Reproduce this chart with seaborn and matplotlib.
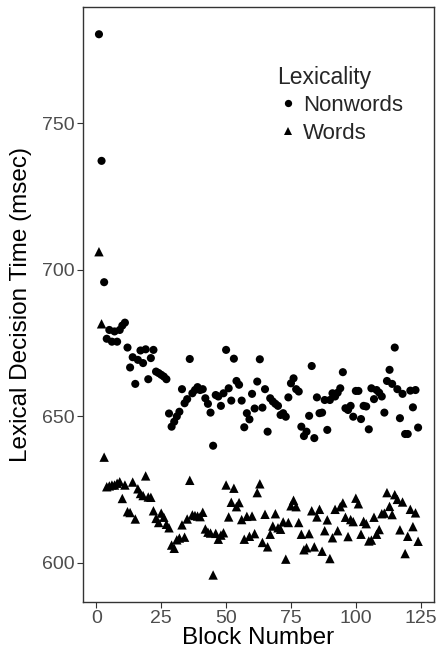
import numpy as np
import pandas as pd
import matplotlib
matplotlib.use('Agg')
import matplotlib.pyplot as plt
import seaborn as sns

# 每个 block 的平均反应时间
blocks = list(range(1, 125))

nonwords = [780.4, 737.2, 695.8, 676.5, 679.5, 675.5, 679.0, 675.5, 679.5, 681.0,
            682.0, 673.5, 666.7, 670.2, 661.1, 669.3, 672.5, 668.2, 672.9, 662.7,
            669.9, 672.7, 665.3, 664.8, 664.2, 663.6, 662.7, 651.0, 646.5, 648.2,
            650.0, 651.6, 659.3, 654.5, 655.9, 669.6, 657.9, 659.0, 660.0, 659.0,
            659.3, 656.2, 654.3, 651.3, 640.0, 657.3, 656.8, 653.6, 657.9, 672.7,
            659.6, 655.4, 669.7, 662.1, 660.8, 655.4, 646.3, 651.1, 649.0, 657.7,
            652.7, 661.9, 669.5, 653.0, 659.3, 644.8, 656.2, 655.1, 654.3, 653.6,
            650.5, 651.1, 649.9, 656.5, 661.3, 663.0, 659.3, 658.5, 646.5, 643.3,
            644.8, 650.2, 667.2, 642.6, 656.5, 651.1, 651.3, 655.6, 645.4, 655.6,
            657.9, 656.8, 658.1, 659.6, 665.1, 652.8, 652.2, 653.6, 649.9, 658.7,
            658.7, 649.1, 653.6, 653.4, 645.6, 659.6, 655.9, 659.0, 658.1, 656.8,
            651.3, 662.1, 665.9, 661.1, 673.5, 659.3, 649.4, 657.7, 644.0, 644.0,
            658.8, 653.1, 659.0, 646.2]

words = [706.2, 681.6, 636.1, 626.0, 626.3, 626.6, 626.6, 627.2, 627.7, 622.0,
         626.6, 617.5, 617.2, 627.6, 615.0, 625.3, 623.7, 623.0, 629.7, 622.5,
         622.4, 617.8, 615.2, 613.8, 617.0, 615.6, 613.2, 612.0, 606.1, 605.0,
         607.9, 608.5, 613.0, 608.8, 615.0, 628.2, 616.4, 616.2, 616.0, 615.8,
         617.3, 611.6, 610.5, 610.2, 595.9, 610.1, 608.1, 609.5, 610.3, 626.6,
         615.7, 620.7, 625.5, 619.2, 620.6, 614.8, 608.1, 615.9, 609.1, 616.0,
         610.0, 624.0, 627.0, 607.0, 616.6, 605.5, 609.8, 612.6, 616.8, 612.0,
         611.5, 614.0, 601.3, 613.8, 619.5, 621.4, 619.2, 613.8, 609.8, 604.5,
         605.2, 610.0, 617.8, 605.5, 615.7, 618.3, 604.0, 611.0, 614.7, 601.5,
         608.6, 618.3, 611.0, 619.2, 620.5, 615.6, 609.0, 614.8, 614.1, 622.1,
         620.2, 609.8, 614.2, 613.4, 607.5, 607.8, 615.6, 609.8, 611.4, 616.8,
         617.0, 624.0, 619.3, 616.5, 623.3, 621.7, 611.3, 620.8, 603.2, 609.1,
         618.3, 612.4, 617.1, 607.4]

x_ticks = [0, 25, 50, 75, 100, 125]
y_ticks = [600, 650, 700, 750]

df = pd.DataFrame({
    'Block': blocks * 2,
    'RT': nonwords + words,
    'Lexicality': ['Nonwords'] * len(blocks) + ['Words'] * len(blocks),
})

sns.set_style('white')
plt.rcParams['font.family'] = ['Liberation Sans', 'DejaVu Sans']

fig = plt.figure(figsize=(4.38, 6.56), dpi=100)
ax = fig.add_axes([0.1895, 0.0823, 0.8015, 0.9067])

sns.scatterplot(data=df, x='Block', y='RT', style='Lexicality', size='Lexicality',
                markers={'Nonwords': 'o', 'Words': '^'},
                sizes={'Nonwords': 34, 'Words': 46},
                color='black', linewidth=0, ax=ax)

ax.set_xticks(x_ticks)
ax.set_yticks(y_ticks)
ax.set_xlabel('Block Number', fontsize=17.5, color='black', labelpad=0)
ax.set_ylabel('Lexical Decision Time (msec)', fontsize=17.5, color='black', labelpad=7)
ax.tick_params(axis='both', which='major', labelsize=14, labelcolor='#4D4D4D',
               color='#333333', length=4, width=0.8, direction='out',
               bottom=True, left=True, pad=2)
for side in ['left', 'right', 'top', 'bottom']:
    ax.spines[side].set_visible(True)
    ax.spines[side].set_color('#333333')
    ax.spines[side].set_linewidth(1.0)
ax.grid(False)

handles, labels = ax.get_legend_handles_labels()
leg = ax.legend(handles, labels, title='Lexicality', frameon=False,
                loc='upper left', bbox_to_anchor=(0.553, 0.902),
                fontsize=16, title_fontsize=16.5, alignment='left',
                handlelength=1.0, handletextpad=0.15, labelspacing=0.3,
                borderaxespad=0, borderpad=0, markerscale=0.9)

fig.savefig('out.png', dpi=100)
